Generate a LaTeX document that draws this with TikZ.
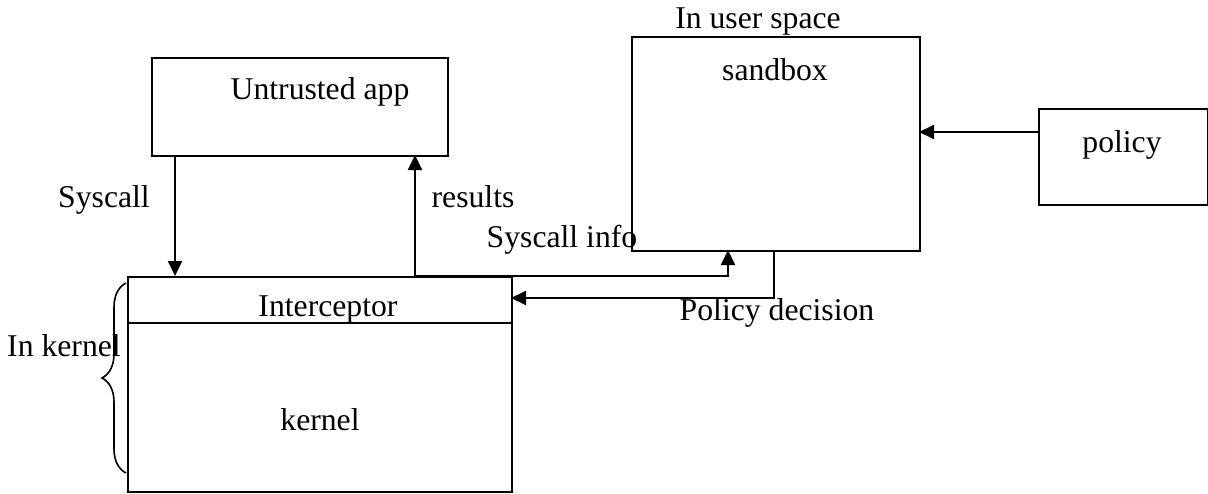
\documentclass[tikz,border=0pt]{standalone}
\usepackage{fontspec}
\setmainfont{Liberation Serif}
\usetikzlibrary{arrows.meta,decorations.pathreplacing}
\begin{document}
\begin{tikzpicture}[x=0.5pt,y=-0.5pt,
  box/.style={draw,line width=1pt,inner sep=0pt,anchor=north west},
  lbl/.style={anchor=base,inner sep=0pt,font=\fontsize{15.85}{19}\selectfont},
  conn/.style={line width=1pt},
  arr/.style={conn,-{Triangle[length=7.5pt,width=7pt]}}]
\useasboundingbox (0,0) rectangle (1208,493);
% boxes
\node[box,minimum width=148pt,minimum height=49pt] (app) at (151,57) {};
\node[box,minimum width=144pt,minimum height=107pt] (sandbox) at (631,36) {};
\node[box,minimum width=84.5pt,minimum height=48pt] (policy) at (1038,108) {};
\node[box,minimum width=192pt,minimum height=107.5pt] (kernel) at (127,276) {};
\draw[conn] (127,323) -- (511,323);
% texts
\node[lbl] (tapp) at (320,99) {Untrusted app};
\node[lbl] (tsand) at (775,80) {sandbox};
\node[lbl] (tpol) at (1122,152) {policy};
\node[lbl] (tint) at (328,316) {Interceptor};
\node[lbl] (tker) at (320,430) {kernel};
\node[lbl] (tus) at (758,28) {In user space};
\node[lbl] (tsys) at (104,207) {Syscall};
\node[lbl] (tres) at (473,207) {results};
\node[lbl] (tinfo) at (562,247) {Syscall info};
\node[lbl] (tdec) at (777,320) {Policy decision};
\node[lbl] (tkin) at (64,356) {In kernel};
% connectors
\coordinate (s1) at (175,155);
\coordinate (s2) at (175,276);
\coordinate (r1) at (415,276);
\coordinate (r2) at (415,155);
\coordinate (i1) at (728,276);
\coordinate (i2) at (728,250);
\coordinate (d1) at (774,250);
\coordinate (d2) at (774,298);
\coordinate (d3) at (511,298);
\coordinate (p1) at (1038,132);
\coordinate (p2) at (919,132);
\draw[arr] (s1) -- (s2);
\draw[arr] (r1) -- (r2);
\draw[arr] (r1) -- (i1) -- (i2);
\draw[arr] (d1) -- (d2) -- (d3);
\draw[arr] (p1) -- (p2);
% brace
\draw[line width=0.8pt,decorate,decoration={brace,amplitude=12pt}] (126,473) -- (126,283);
\end{tikzpicture}
\end{document}
